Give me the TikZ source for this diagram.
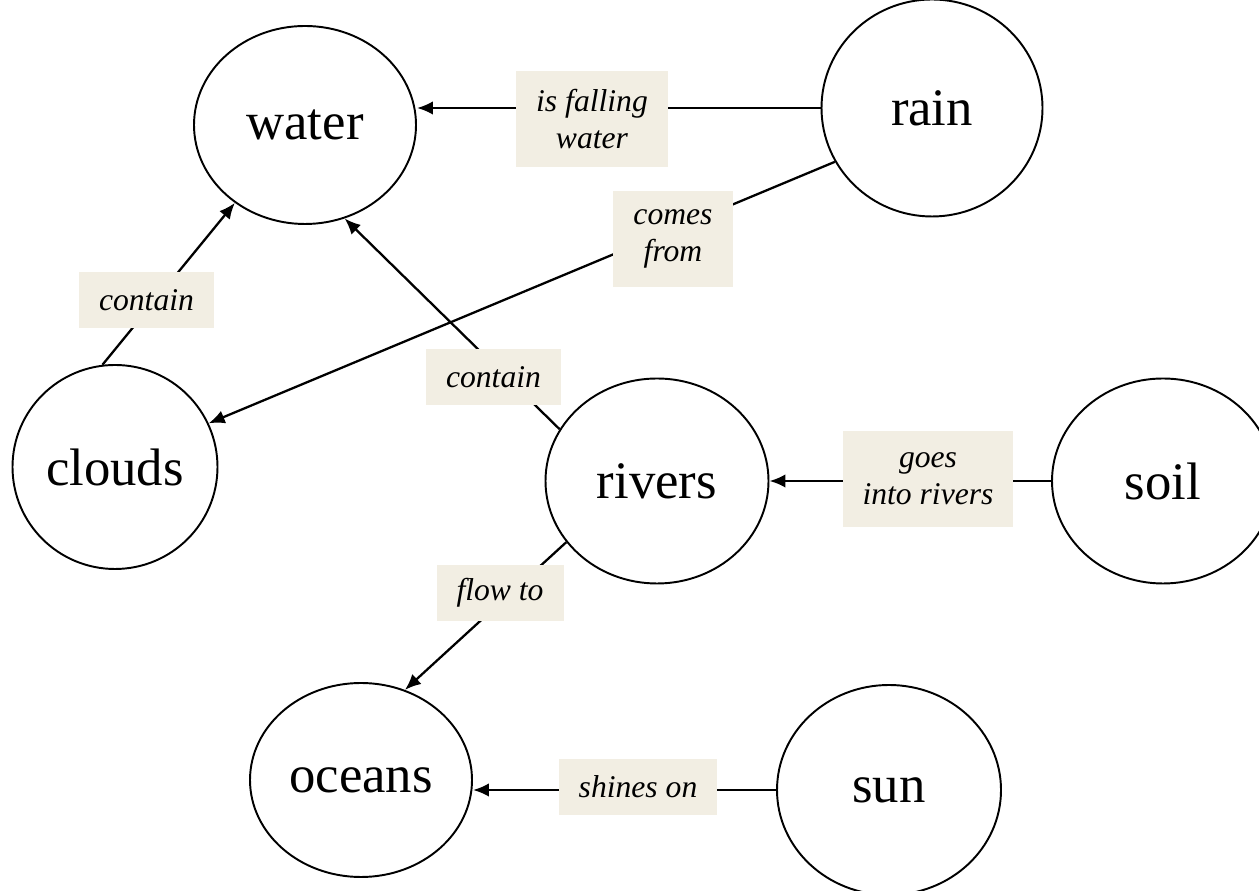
\documentclass[tikz,border=0pt]{standalone}
\usepackage{fontspec}
\setmainfont{Liberation Serif}
\usetikzlibrary{shapes.geometric,arrows.meta}
\definecolor{lblfill}{HTML}{F2EEE3}
\tikzset{
	concept/.style={draw, ellipse, line width=1.1pt, inner sep=0pt, font=\fontsize{30}{36}\selectfont},
	link/.style={line width=1.3pt, -{Latex[length=3.2mm,width=2.7mm]}},
	lbl/.style={fill=lblfill, inner xsep=0.4cm, inner ysep=0pt, minimum height=1.12cm, align=center, font=\fontsize{18}{21}\selectfont\itshape},
	twoline/.style={minimum height=1.92cm}
}

\begin{document}
\begin{tikzpicture}
	\useasboundingbox (0,0) rectangle (25.18,17.82);

	% concepts
	\node[concept, minimum width=4.44cm, minimum height=3.96cm] (water)  at (6.10,15.32) {water};
	\node[concept, minimum width=4.42cm, minimum height=4.34cm] (rain)   at (18.64,15.66) {rain};
	\node[concept, minimum width=4.10cm, minimum height=4.08cm] (clouds) at (2.30,8.48) {clouds};
	\node[concept, minimum width=4.46cm, minimum height=4.10cm] (rivers) at (13.14,8.20) {rivers};
	\node[concept, minimum width=4.44cm, minimum height=4.10cm] (soil)   at (23.26,8.20) {soil};
	\node[concept, minimum width=4.44cm, minimum height=3.88cm] (oceans) at (7.22,2.22) {oceans};
	\node[concept, minimum width=4.48cm, minimum height=4.20cm] (sun)    at (17.78,2.02) {sun};

	% links
	\draw[link] (rain.west) -- (rain.west -| water.east);
	\draw[link] (rain.209) -- (clouds.25);
	\draw[link] (clouds.97) -- (water.228);
	\draw[link] (rivers.152) -- (water.293);
	\draw[link] (soil.west) -- (rivers.east);
	\draw[link] (rivers.214) -- (oceans.64);
	\draw[link] (sun.west) -- (sun.west -| oceans.east);

	% link labels
	\node[lbl, twoline] (falling)  at (11.84,15.44) {is falling\\water};
	\node[lbl, twoline] (comes)    at (13.46,13.04) {comes\\from};
	\node[lbl] (containA) at (2.93,11.82) {contain};
	\node[lbl] (containB) at (9.87,10.28) {contain};
	\node[lbl, twoline] (goes)     at (18.56,8.24) {goes\\into rivers};
	\node[lbl] (flow)     at (10.00,5.96) {flow to};
	\node[lbl] (shines)   at (12.76,2.08) {shines on};
\end{tikzpicture}
\end{document}
